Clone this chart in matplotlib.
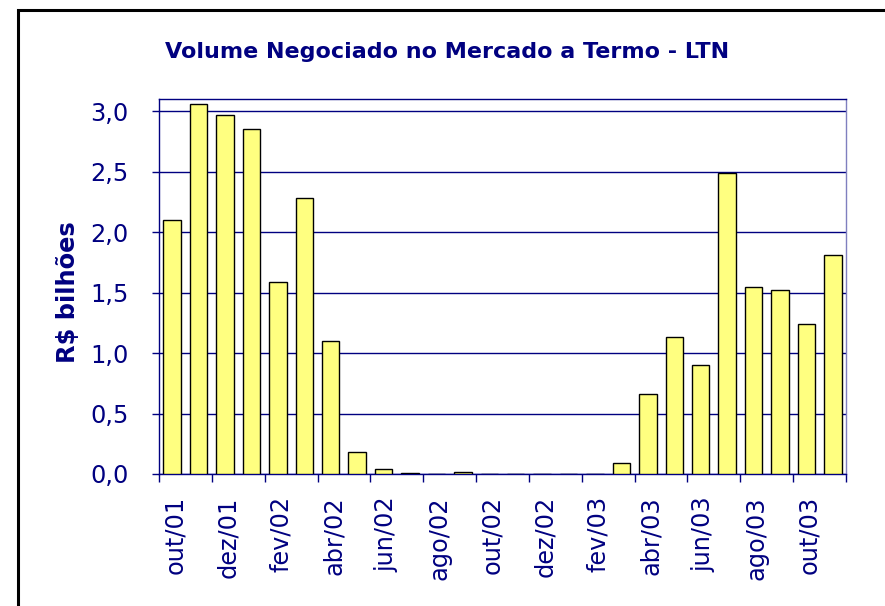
import matplotlib
matplotlib.use("Agg")
import matplotlib.pyplot as plt
import matplotlib.transforms as mtransforms
from matplotlib.patches import Rectangle
import numpy as np

# meses (out/01 .. nov/03)
months = [
    "out/01", "nov/01", "dez/01", "jan/02", "fev/02", "mar/02", "abr/02",
    "mai/02", "jun/02", "jul/02", "ago/02", "set/02", "out/02", "nov/02",
    "dez/02", "jan/03", "fev/03", "mar/03", "abr/03", "mai/03", "jun/03",
    "jul/03", "ago/03", "set/03", "out/03", "nov/03",
]
# R$ bilhões
volume = [
    2.10, 3.06, 2.97, 2.85, 1.59, 2.28, 1.10,
    0.18, 0.04, 0.01, 0.00, 0.02, 0.00, 0.00,
    0.00, 0.00, 0.00, 0.09, 0.66, 1.13, 0.90,
    2.49, 1.55, 1.52, 1.24, 1.81,
]
y_ticks = [0.0, 0.5, 1.0, 1.5, 2.0, 2.5, 3.0]
y_tick_labels = ["0,0", "0,5", "1,0", "1,5", "2,0", "2,5", "3,0"]

navy = "#000080"

fig = plt.figure(figsize=(8.85, 6.06), dpi=100)
ax = fig.add_axes([159 / 885, 1 - 474 / 606, (846 - 159) / 885, (474 - 99) / 606])

x = np.arange(len(months))
ax.bar(x, volume, width=0.66, color="#FFFF80", edgecolor="black", linewidth=1.0, zorder=3)

ax.set_xlim(-0.5, len(months) - 0.5)
ax.set_ylim(0, 3.1)

ax.set_yticks(y_ticks)
ax.set_yticklabels(y_tick_labels)
ax.yaxis.grid(True, color=navy, linewidth=1.0, zorder=1)
ax.tick_params(axis="y", colors=navy, labelsize=17.3, length=5, width=1, pad=17)

# marcas a cada 2 meses, rótulos no primeiro mês do par
ax.set_xticks(np.arange(-0.5, len(months), 2))
ax.set_xticklabels([])
ax.set_xticks(x[::2], minor=True)
ax.set_xticklabels(months[::2], minor=True, rotation=90)
ax.tick_params(axis="x", which="major", colors=navy, length=6, width=1)
ax.tick_params(axis="x", which="minor", colors=navy, length=0, labelsize=17.3, pad=16)
shift = mtransforms.ScaledTranslation(3 / 100, 0, fig.dpi_scale_trans)
for lbl in ax.get_xticklabels(minor=True):
    lbl.set_transform(lbl.get_transform() + shift)

for s in ax.spines.values():
    s.set_color(navy)
    s.set_linewidth(1.0)
ax.spines["right"].set_color("#7f7fbf")

ax.set_ylabel("R$ bilhões", color=navy, fontsize=17.4, fontweight="bold")
ax.yaxis.set_label_coords((80 - 159) / 687, (474 - 292.5) / 375)

fig.text(447.5 / 885, 1 - 58 / 606, "Volume Negociado no Mercado a Termo - LTN",
         ha="center", va="baseline", color=navy, fontsize=16, fontweight="bold")

# moldura externa
fig.patches.append(Rectangle((17.5 / 885, -0.2), 1.5, 0.2 + 1 - 9.5 / 606,
                             transform=fig.transFigure, fill=False,
                             edgecolor="black", linewidth=2.2))

fig.savefig("out.png", dpi=100)
